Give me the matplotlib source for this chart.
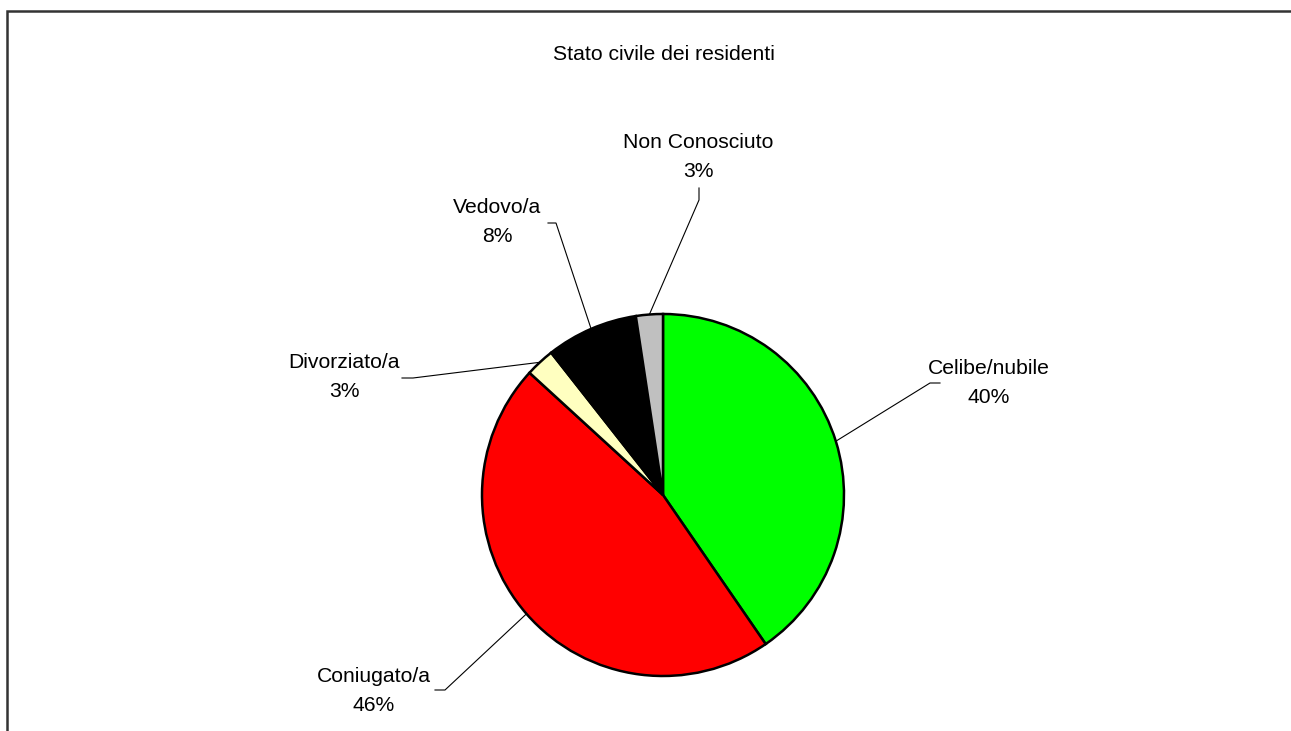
import numpy as np
import matplotlib
matplotlib.use("Agg")
import matplotlib.pyplot as plt

# ---- data ----
title = "Stato civile dei residenti"
categories = ["Celibe/nubile", "Coniugato/a", "Divorziato/a", "Vedovo/a", "Non Conosciuto"]
values = [40.4, 46.4, 2.6, 8.2, 2.4]
pct_labels = ["40%", "46%", "3%", "8%", "3%"]
colors = ["#00FF00", "#FF0000", "#FFFFC0", "#000000", "#C0C0C0"]

# ---- layout (pixel coordinates, y measured from top) ----
W, H = 1291, 731
center_px = (663, 495)
radius_px = 181
# (elbow, end, text centre) for each label
label_layout = [
    ((930, 383), (940, 383), (989, 383)),
    ((445, 690), (435, 690), (374, 691)),
    ((413, 378), (402, 378), (344, 377)),
    ((556, 223), (548, 223), (497, 222)),
    ((699, 200), (699, 188), (698, 157)),
]

plt.rcParams['font.family'] = ['Liberation Sans', 'DejaVu Sans']

fig = plt.figure(figsize=(W / 100, H / 100), dpi=100)
ax = fig.add_axes([0, 0, 1, 1])

def fy(y):
    return H - y

cx, cy = center_px[0], fy(center_px[1])
wedges, _ = ax.pie(values, colors=colors, startangle=90, counterclock=False,
                   center=(cx, cy), radius=radius_px, frame=True,
                   wedgeprops=dict(edgecolor="black", linewidth=1.8))
ax.set_xlim(0, W)
ax.set_ylim(0, H)
ax.set_aspect('equal')
ax.axis('off')

for w, cat, pct, (elbow, end, tpos) in zip(wedges, categories, pct_labels, label_layout):
    mid = np.deg2rad((w.theta1 + w.theta2) / 2)
    sx = cx + radius_px * np.cos(mid)
    sy = cy + radius_px * np.sin(mid)
    ax.plot([sx, elbow[0], end[0]], [sy, fy(elbow[1]), fy(end[1])],
            color="black", linewidth=0.8, solid_joinstyle='miter')
    ax.text(tpos[0], fy(tpos[1]), f"{cat}\n{pct}", ha="center", va="center",
            fontsize=15.2, linespacing=1.7, color="black")

ax.text(664, fy(55), title, ha="center", va="center", fontsize=15.2, color="black")

# chart frame (left and top borders visible)
ax.plot([7, 7, W + 5], [-5, fy(11), fy(11)], color="#333333", linewidth=1.8,
        clip_on=False, solid_joinstyle='miter')

fig.savefig("out.png", dpi=100)
